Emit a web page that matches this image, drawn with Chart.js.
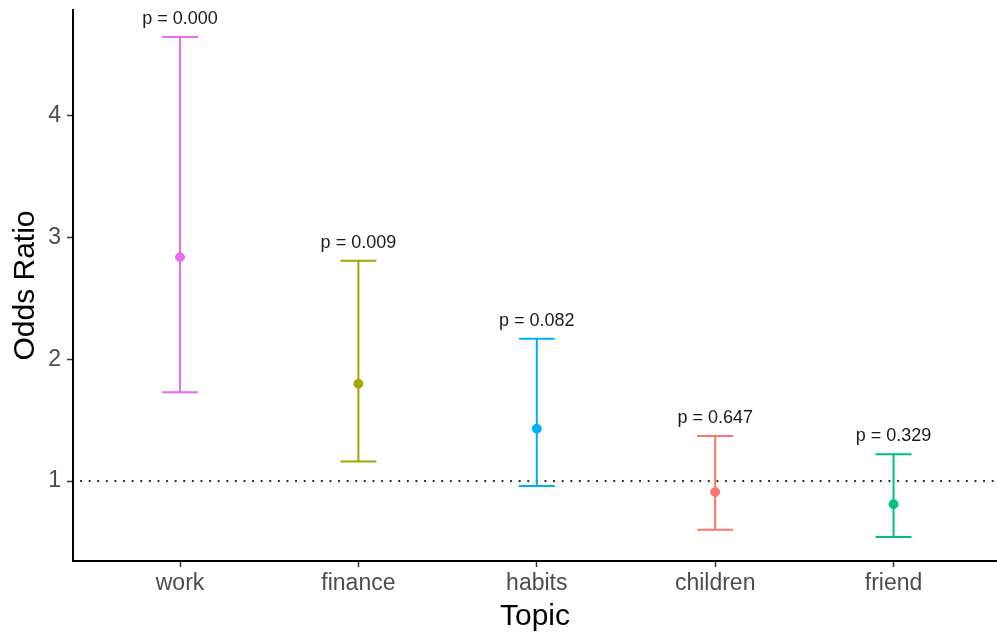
<!DOCTYPE html>
<html>
<head>
<meta charset="utf-8">
<script src="https://cdn.jsdelivr.net/npm/chart.js@4"></script>
<style>
  html, body { margin: 0; padding: 0; background: #fff; }
  #wrap { width: 997px; height: 633px; }
</style>
</head>
<body>
<div id="wrap"><canvas id="grafico" width="997" height="633"></canvas></div>
<script>
const topicos = ['work', 'finance', 'habits', 'children', 'friend'];
const oddsRatio = [2.84, 1.80, 1.43, 0.91, 0.81];
const limiteInferior = [1.73, 1.16, 0.96, 0.60, 0.54];
const limiteSuperior = [4.65, 2.81, 2.17, 1.37, 1.22];
const pValores = ['p = 0.000', 'p = 0.009', 'p = 0.082', 'p = 0.647', 'p = 0.329'];
const cores = ['#E76BF3', '#A3A500', '#00B0F6', '#F8766D', '#00BF7D'];
const ticksY = [1, 2, 3, 4];

const fonte = '"Liberation Sans", Arial, sans-serif';

// barras de erro, linha pontilhada em 1 e rotulos de p
const barrasErro = {
  id: 'barrasErro',
  beforeDatasetsDraw(chart) {
    const { ctx, chartArea, scales: { x, y } } = chart;
    ctx.save();
    // linha de referencia
    const y1 = y.getPixelForValue(1);
    ctx.strokeStyle = '#222';
    ctx.lineWidth = 2.2;
    ctx.lineCap = 'round';
    ctx.setLineDash([0.1, 8.5]);
    ctx.beginPath();
    ctx.moveTo(chartArea.left + 8, y1);
    ctx.lineTo(chartArea.right, y1);
    ctx.stroke();
    ctx.setLineDash([]);
    ctx.lineCap = 'butt';

    topicos.forEach((t, i) => {
      const px = x.getPixelForValue(i + 1);
      const lo = y.getPixelForValue(limiteInferior[i]);
      const hi = y.getPixelForValue(limiteSuperior[i]);
      const meia = 18;
      ctx.strokeStyle = cores[i];
      ctx.lineWidth = 2;
      ctx.beginPath();
      ctx.moveTo(px, lo); ctx.lineTo(px, hi);
      ctx.moveTo(px - meia, lo); ctx.lineTo(px + meia, lo);
      ctx.moveTo(px - meia, hi); ctx.lineTo(px + meia, hi);
      ctx.stroke();

      ctx.fillStyle = '#1a1a1a';
      ctx.font = '18px ' + fonte;
      ctx.textAlign = 'center';
      ctx.textBaseline = 'middle';
      ctx.fillText(pValores[i], px, hi - 18);
    });
    ctx.restore();
  }
};

function semPadding(s) {
  s.paddingTop = 0;
  s.paddingBottom = 0;
  s.paddingLeft = 0;
  s.paddingRight = 0;
}

const ctx = document.getElementById('grafico').getContext('2d');
const grafico = new Chart(ctx, {
  type: 'scatter',
  data: {
    datasets: [{
      data: oddsRatio.map((v, i) => ({ x: i + 1, y: v })),
      backgroundColor: cores,
      borderColor: cores,
      pointRadius: 4.5,
      pointHoverRadius: 4.5
    }]
  },
  options: {
    responsive: false,
    animation: false,
    layout: { autoPadding: false, padding: { top: 10, right: 0, left: 0, bottom: 0 } },
    plugins: {
      legend: { display: false },
      tooltip: { enabled: false }
    },
    scales: {
      x: {
        type: 'linear',
        min: 0.4,
        max: 5.58,
        afterBuildTicks: (s) => { s.ticks = topicos.map((t, i) => ({ value: i + 1 })); },
        afterFit: (s) => { s.height = 72; semPadding(s); },
        border: { display: true, color: '#000', width: 2 },
        grid: { drawOnChartArea: false, tickLength: 6, color: '#333', tickWidth: 1.5 },
        ticks: {
          color: '#4d4d4d',
          padding: 3,
          font: { family: fonte, size: 23 },
          callback: (v) => topicos[Math.round(v) - 1]
        },
        title: {
          display: true,
          text: 'Topic',
          color: '#000',
          padding: { top: 4, bottom: -2 },
          font: { family: fonte, size: 30 }
        }
      },
      y: {
        min: 0.343,
        max: 4.871,
        afterBuildTicks: (s) => { s.ticks = ticksY.map(v => ({ value: v })); },
        afterFit: (s) => { s.width = 73; semPadding(s); },
        border: { display: true, color: '#000', width: 2 },
        grid: { drawOnChartArea: false, tickLength: 6, color: '#333', tickWidth: 1.5 },
        ticks: {
          color: '#4d4d4d',
          padding: 6,
          font: { family: fonte, size: 23 }
        },
        title: {
          display: true,
          text: 'Odds Ratio',
          color: '#000',
          padding: { top: 8, bottom: 4 },
          font: { family: fonte, size: 30 }
        }
      }
    }
  },
  plugins: [barrasErro]
});
</script>
</body>
</html>
